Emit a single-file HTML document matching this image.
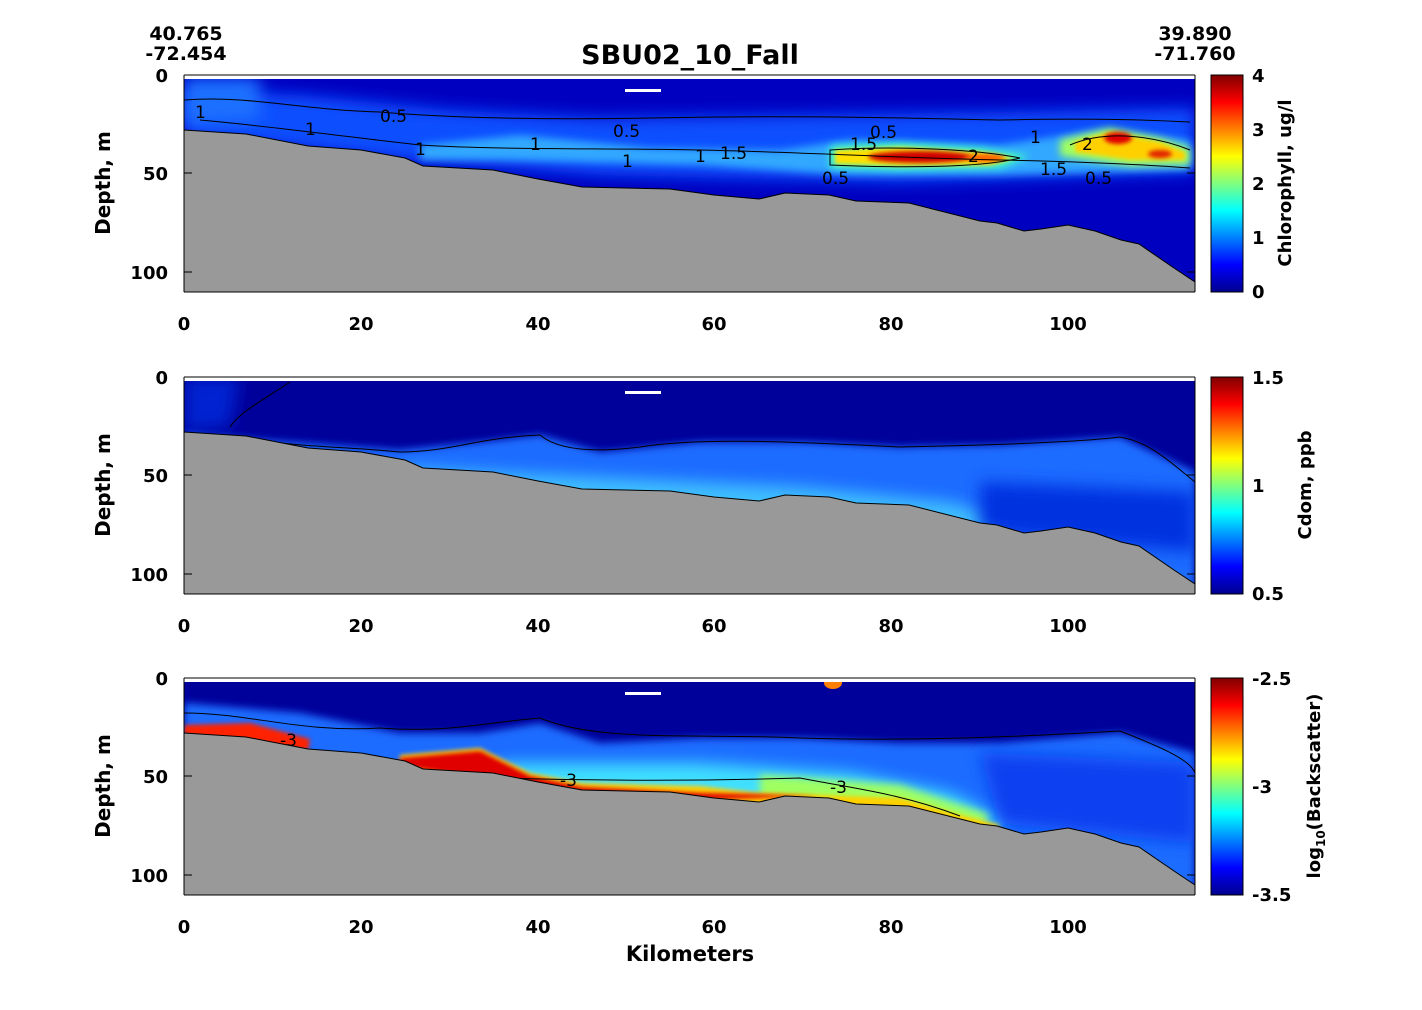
<!DOCTYPE html>
<html><head><meta charset="utf-8"><style>
body{margin:0;background:#fff}
text{font-family:"DejaVu Sans","Liberation Sans",sans-serif;font-weight:bold;fill:#000}
.n text, text.n{font-weight:normal}
</style></head><body>
<svg width="1422" height="1005" viewBox="0 0 1422 1005" xmlns="http://www.w3.org/2000/svg">
<defs>
<linearGradient id="jet" x1="0" y1="1" x2="0" y2="0">
<stop offset="0" stop-color="#00008f"/><stop offset="0.125" stop-color="#0000ff"/>
<stop offset="0.375" stop-color="#00ffff"/><stop offset="0.625" stop-color="#ffff00"/>
<stop offset="0.875" stop-color="#ff0000"/><stop offset="1" stop-color="#800000"/>
</linearGradient>
<clipPath id="clip"><rect x="184" y="75" width="1011" height="217"/></clipPath>
<filter id="b4" x="-50%" y="-100%" width="200%" height="300%"><feGaussianBlur stdDeviation="4"/></filter>
<filter id="b8" x="-50%" y="-100%" width="200%" height="300%"><feGaussianBlur stdDeviation="8"/></filter>
<filter id="b2" x="-50%" y="-100%" width="200%" height="300%"><feGaussianBlur stdDeviation="2"/></filter>
<g id="terrain">
<polygon fill="#999999" stroke="#000" stroke-width="1" points="184,130 246,134 308,146 361,150 405,158 423,166 493,170 538,179 582,187 670,189 714,195 759,199 785,193 829,195 856,201 909,203 980,221 997,223 1024,231 1041,229 1068,225 1095,231 1121,240 1139,244 1174,268 1195,282 1195,293 184,293"/>
</g>
<g id="axes">
<rect x="1195" y="75" width="14" height="217" fill="#fff"/>
<rect x="184" y="75" width="1011" height="4" fill="#fff"/>
<line x1="184" y1="75" x2="1195" y2="75" stroke="#000"/>
<line x1="1195" y1="75" x2="1195" y2="292" stroke="#000"/>
<line x1="184" y1="75" x2="184" y2="292" stroke="#000"/>
<line x1="184" y1="292" x2="1195" y2="292" stroke="#000"/>
<path d="M184 75h8M184 173h8M184 272h8M1195 75h-8M1195 173h-8M1195 272h-8" stroke="#000"/>
<rect x="625" y="89" width="36" height="3" fill="#fff"/>
<g font-size="18" text-anchor="end"><text x="168" y="82">0</text><text x="168" y="180">50</text><text x="168" y="279">100</text></g>
<g font-size="18" text-anchor="middle"><text x="184" y="330">0</text><text x="361" y="330">20</text><text x="538" y="330">40</text><text x="714" y="330">60</text><text x="891" y="330">80</text><text x="1068" y="330">100</text></g>
<text font-size="20" text-anchor="middle" transform="translate(110,183) rotate(-90)">Depth, m</text>
</g>
</defs>

<text x="690" y="64" font-size="27" text-anchor="middle">SBU02_10_Fall</text>
<text x="186" y="40" font-size="19" text-anchor="middle">40.765</text>
<text x="186" y="60" font-size="19" text-anchor="middle">-72.454</text>
<text x="1195" y="40" font-size="19" text-anchor="middle">39.890</text>
<text x="1195" y="60" font-size="19" text-anchor="middle">-71.760</text>

<!-- Panel 1 -->
<g>
<g clip-path="url(#clip)">
<rect x="184" y="75" width="1011" height="217" fill="#0000c0"/>
<path d="M184 90 L300 95 L450 110 L600 118 L800 115 L1000 112 L1195 108 L1195 172 L900 182 L600 175 L400 160 L184 135Z" fill="#0a50ff" filter="url(#b8)"/>
<path d="M184 78 L260 78 L260 120 L184 125Z" fill="#1a70ff" filter="url(#b8)"/>
<path d="M420 145 L520 135 L650 148 L780 150 L850 140 L1000 145 L1100 130 L1190 140 L1190 170 L1000 175 L850 175 L700 165 L500 160 L420 160Z" fill="#30a8ff" filter="url(#b4)"/>
<path d="M830 146 L900 143 L980 148 L1030 156 L1000 168 L900 170 L830 168Z" fill="#40ffc0" filter="url(#b4)"/>
<path d="M835 150 L900 147 L980 152 L1015 158 L990 165 L900 166 L835 164Z" fill="#ffe000" filter="url(#b2)"/>
<ellipse cx="920" cy="157" rx="52" ry="6" fill="#d00000" filter="url(#b2)"/>
<ellipse cx="985" cy="158" rx="20" ry="4" fill="#ff6000" filter="url(#b2)"/>
<path d="M1060 140 L1110 128 L1160 138 L1190 148 L1190 165 L1130 166 L1060 156Z" fill="#a0ff60" filter="url(#b4)"/>
<path d="M1075 142 L1110 132 L1160 142 L1185 152 L1185 160 L1130 160 L1075 152Z" fill="#ffd000" filter="url(#b2)"/>
<ellipse cx="1118" cy="138" rx="14" ry="6" fill="#e00000" filter="url(#b2)"/>
<ellipse cx="1160" cy="154" rx="12" ry="4" fill="#e02000" filter="url(#b2)"/>
<g fill="none" stroke="#000" stroke-width="1">
<path d="M184 100 C250 95 300 110 380 112 C450 118 550 120 650 118 C800 115 900 118 1000 120 C1100 118 1150 120 1190 122"/>
<path d="M200 120 C260 125 330 135 420 145 C500 150 600 148 700 150 C800 152 900 158 1000 160 C1100 162 1150 165 1190 168"/>
<path d="M830 150 C900 145 980 150 1020 158 C980 168 900 168 830 165Z"/>
<path d="M1070 145 C1110 128 1160 138 1190 150"/>
</g>
<g font-size="17" class="n">
<text x="195" y="118">1</text><text x="305" y="135">1</text><text x="380" y="122">0.5</text><text x="415" y="155">1</text><text x="530" y="150">1</text><text x="613" y="137">0.5</text><text x="622" y="167">1</text><text x="695" y="162">1</text><text x="720" y="159">1.5</text><text x="822" y="184">0.5</text><text x="870" y="138">0.5</text><text x="968" y="162">2</text><text x="1030" y="143">1</text><text x="1082" y="150">2</text><text x="1040" y="175">1.5</text><text x="1085" y="184">0.5</text><text x="850" y="150">1.5</text>
</g>
<use href="#terrain"/>
</g>
<use href="#axes"/>
<rect x="1211" y="75" width="32" height="217" fill="url(#jet)" stroke="#000"/>
<g font-size="18"><text x="1252" y="82">4</text><text x="1252" y="136">3</text><text x="1252" y="190">2</text><text x="1252" y="244">1</text><text x="1252" y="298">0</text></g>
<text font-size="18" text-anchor="middle" transform="translate(1291,183) rotate(-90)">Chlorophyll, ug/l</text>
</g>

<!-- Panel 2 -->
<g transform="translate(0,302)">
<g clip-path="url(#clip)">
<rect x="184" y="75" width="1011" height="217" fill="#00009a"/>
<path d="M184 130 L260 138 L330 143 L400 148 L480 140 L540 133 L600 150 L700 140 L800 140 L900 145 L1000 143 L1120 135 L1195 170 L1195 292 L184 292Z" fill="#1a6cff" filter="url(#b4)"/>
<path d="M400 165 L600 175 L800 185 L950 200 L1000 215 L1000 240 L400 240Z" fill="#40c0ff" filter="url(#b8)"/>
<path d="M980 180 L1195 190 L1195 250 L980 230Z" fill="#0030e0" filter="url(#b8)"/>
<path d="M184 75 L240 75 L230 125 L184 130Z" fill="#0020d0" filter="url(#b8)"/>
<g fill="none" stroke="#000" stroke-width="1">
<path d="M260 138 C300 145 350 145 400 150 C450 150 480 135 540 133 C560 150 600 150 640 145 C700 135 800 140 900 145 C1000 143 1080 140 1120 135 C1150 140 1170 160 1195 180"/>
<path d="M230 125 C240 110 260 100 290 80"/>
</g>
<use href="#terrain"/>
</g>
<use href="#axes"/>
<rect x="1211" y="75" width="32" height="217" fill="url(#jet)" stroke="#000"/>
<g font-size="18"><text x="1252" y="82">1.5</text><text x="1252" y="190">1</text><text x="1252" y="298">0.5</text></g>
<text font-size="18" text-anchor="middle" transform="translate(1311,183) rotate(-90)">Cdom, ppb</text>
</g>

<!-- Panel 3 -->
<g transform="translate(0,603)">
<g clip-path="url(#clip)">
<rect x="184" y="75" width="1011" height="217" fill="#00009a"/>
<path d="M184 100 L300 110 L400 130 L480 130 L540 120 L600 140 L700 135 L800 135 L900 140 L1000 140 L1120 130 L1195 150 L1195 292 L184 292Z" fill="#1a6cff" filter="url(#b4)"/>
<path d="M500 160 L700 160 L850 170 L950 190 L1000 215 L1000 230 L500 230Z" fill="#40e0ff" filter="url(#b8)"/>
<path d="M760 172 L900 182 L990 212 L980 225 L760 225Z" fill="#a0ff60" filter="url(#b4)"/>
<path d="M980 150 L1195 160 L1195 240 L1000 220Z" fill="#1040f0" filter="url(#b8)"/>
<path d="M184 122 L250 120 L310 136 L308 148 L184 132Z" fill="#ff2000" filter="url(#b2)"/>
<path d="M400 152 L480 145 L530 170 L582 180 L700 183 L760 190 L900 195 L960 212 L1000 222 L995 228 L900 210 L582 192 L400 165Z" fill="#ffd000" filter="url(#b2)"/>
<path d="M400 155 L480 148 L530 173 L582 184 L700 190 L820 193 L700 197 L582 190 L400 163Z" fill="#e00000" filter="url(#b2)"/>
<ellipse cx="833" cy="80" rx="9" ry="6" fill="#ff8000"/>
<g fill="none" stroke="#000" stroke-width="1">
<path d="M184 110 C250 110 300 130 380 125 C450 130 480 120 540 115 C600 140 700 130 800 135 C900 138 1000 135 1120 128 C1150 140 1190 155 1195 170"/>
<path d="M500 175 C600 178 700 178 800 175 C850 185 900 190 960 213"/>
</g>
<g font-size="17" class="n">
<text x="280" y="143">-3</text>
<text x="560" y="183">-3</text>
<text x="830" y="190">-3</text>
</g>
<use href="#terrain"/>
</g>
<use href="#axes"/>
<rect x="1211" y="75" width="32" height="217" fill="url(#jet)" stroke="#000"/>
<g font-size="18"><text x="1252" y="82">-2.5</text><text x="1252" y="190">-3</text><text x="1252" y="298">-3.5</text></g>
<text font-size="18" text-anchor="middle" transform="translate(1320,183) rotate(-90)">log<tspan font-size="12" dy="5">10</tspan><tspan dy="-5">(Backscatter)</tspan></text>
<text x="690" y="358" font-size="21" text-anchor="middle">Kilometers</text>
</g>
</svg>
</body></html>
